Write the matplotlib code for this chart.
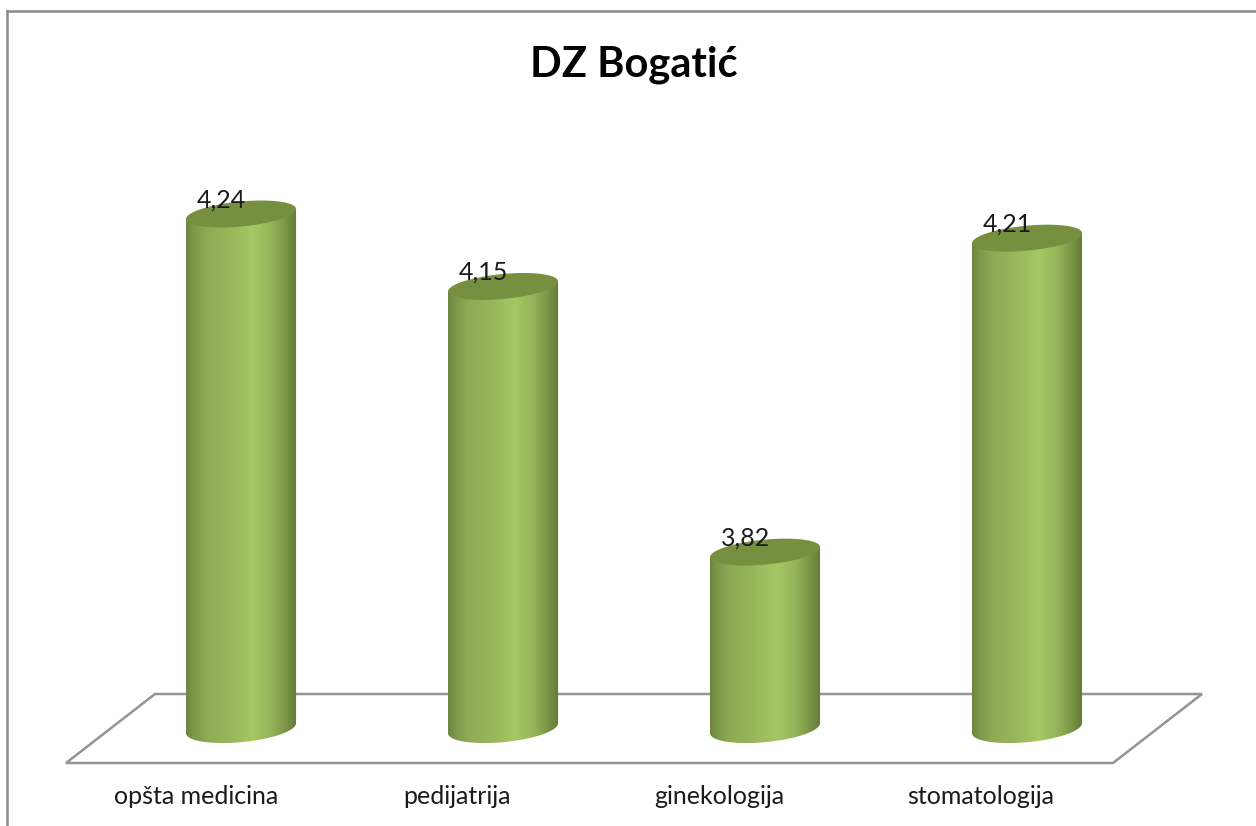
import numpy as np
import matplotlib
matplotlib.use("Agg")
import matplotlib.pyplot as plt
from matplotlib.colors import LinearSegmentedColormap
from matplotlib.lines import Line2D
from matplotlib.patches import Polygon
from matplotlib.transforms import Affine2D

categories = ["opšta medicina", "pedijatrija", "ginekologija", "stomatologija"]
values = [4.24, 4.15, 3.82, 4.21]
value_labels = ["4,24", "4,15", "3,82", "4,21"]
title = "DZ Bogatić"

W, H = 1256, 826
plt.rcParams['font.family'] = ['Lato', 'DejaVu Sans']

fig = plt.figure(figsize=(W / 100, H / 100), dpi=100)
ax = fig.add_axes([0, 0, 1, 1])
# value scale: 805 px per unit, categories 262 px apart
xlim = (-0.92, 3.874)
ylim = (3.4785, 4.5046)
ax.set_xlim(xlim)
ax.set_ylim(ylim)
ax.axis("off")

px = Affine2D().scale(1, -1).translate(0, H)  # pixel coords, y down

# outer frame, only left and top show in the crop
for xs, ys in [([7, 7], [826, 11]), ([7, 1256], [11, 11])]:
    fig.add_artist(Line2D(xs, ys, transform=px, color="#8a8a8a", lw=1.8))

# floor
ax.add_patch(Polygon([(66, 763), (1113, 763), (1202, 694), (155, 694)], closed=True,
                     transform=px, fill=False, ec="#949494", lw=1.8, zorder=1))

cmap = LinearSegmentedColormap.from_list("cyl", [
    (0.0, "#6c873d"), (0.06, "#7a964a"), (0.18, "#8dab54"), (0.40, "#98b75b"),
    (0.60, "#a4c863"), (0.76, "#97b65a"), (0.88, "#7f9a49"), (1.0, "#637a37")])

bar_w = 0.42
base = 3.6
unit = 1 / 805  # value units per pixel
tilt = 5 * unit
drop = 1 * unit  # ellipse centre sits a pixel under the value
t = np.linspace(0, 2 * np.pi, 200)

for i, v in enumerate(values):
    ex = i + bar_w / 2 * np.cos(t)
    top_y = v - drop + 12.5 * unit * np.sin(t) + tilt * np.cos(t)
    # side of the cylinder: lower half of base ellipse, up to the top ellipse
    tb = np.linspace(np.pi, 2 * np.pi, 100)
    lower_x = i + bar_w / 2 * np.cos(tb)
    lower_y = base + 14 * unit * np.sin(tb) + tilt * np.cos(tb)
    tt = np.linspace(0, np.pi, 100)
    upper_x = i + bar_w / 2 * np.cos(tt)
    upper_y = v - drop + tilt * np.cos(tt)
    side = Polygon(np.column_stack([np.r_[lower_x, upper_x], np.r_[lower_y, upper_y]]),
                   closed=True, fc="none", ec="none", transform=ax.transData)
    ax.add_patch(side)
    im = ax.imshow(np.linspace(0, 1, 256)[None, :], cmap=cmap, aspect="auto", zorder=2,
                   extent=(i - bar_w / 2, i + bar_w / 2, base - 0.05, v + 0.05),
                   interpolation="bilinear")
    im.set_clip_path(side)
    ax.fill(ex, top_y, color="#76903f", lw=0, zorder=3)
    ax.text(i - 0.076, v + 0.016, value_labels[i], ha="center", va="center",
            fontsize=18, color="#1a1a1a", zorder=4)

ax.set_xlim(xlim)
ax.set_ylim(ylim)

label_px = [196, 457, 719, 981]
for x, name in zip(label_px, categories):
    fig.text(x / W, 1 - 796 / H, name, ha="center", va="center", fontsize=18, color="#1a1a1a")

fig.text(634 / W, 1 - 65 / H, title, ha="center", va="center", fontsize=30,
         fontweight="bold", color="black")

fig.savefig("out.png", dpi=100)
